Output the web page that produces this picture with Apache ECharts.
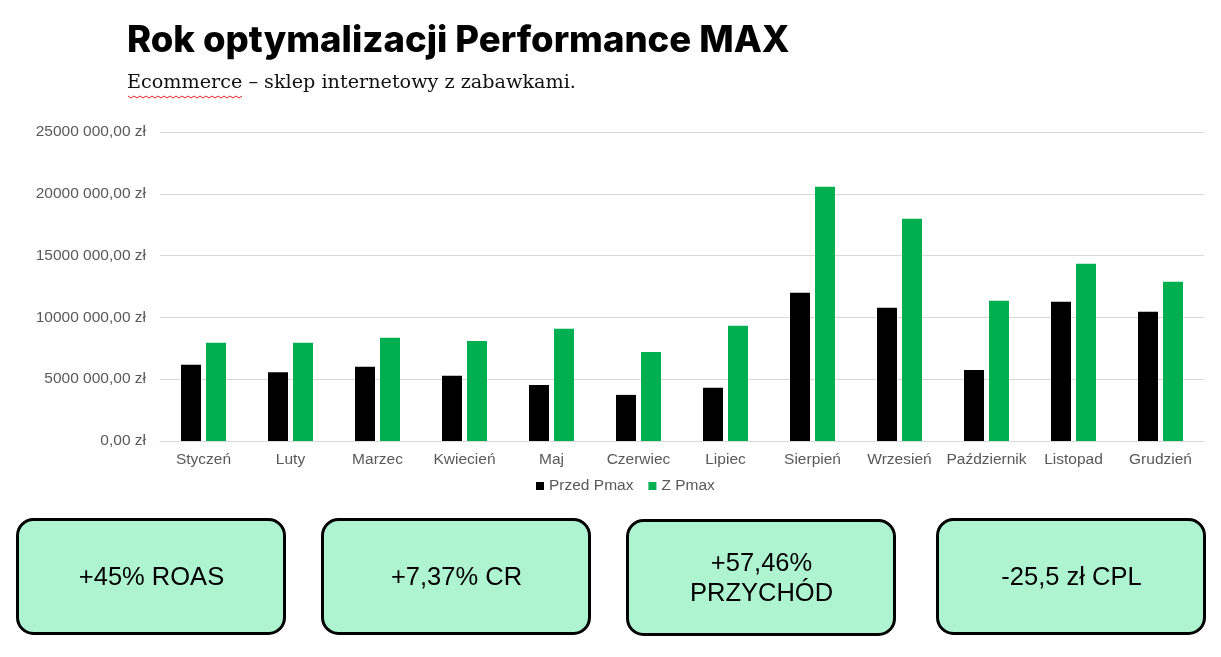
<!DOCTYPE html>
<html>
<head>
<meta charset="utf-8">
<script src="https://cdn.jsdelivr.net/npm/echarts@6/dist/echarts.min.js"></script>
<style>
  html, body { margin: 0; padding: 0; background: #fff; }
  #main { width: 1221px; height: 657px; }
</style>
</head>
<body>
<div id="main"></div>
<script>
// miesiące
var months = ['Styczeń', 'Luty', 'Marzec', 'Kwiecień', 'Maj', 'Czerwiec', 'Lipiec',
              'Sierpień', 'Wrzesień', 'Październik', 'Listopad', 'Grudzień'];
// przychód przed Pmax
var przedPmax = [6160000, 5570000, 6000000, 5270000, 4540000, 3730000, 4300000,
                 11990000, 10780000, 5750000, 11260000, 10450000];
// przychód z Pmax
var zPmax = [7940000, 7940000, 8350000, 8100000, 9080000, 7210000, 9320000,
             20580000, 17990000, 11350000, 14340000, 12880000];
var seriesNames = ['Przed Pmax', 'Z Pmax'];
// kafelki z wynikami
var kpis = ['+45% ROAS', '+7,37% CR', '+57,46%\nPRZYCHÓD', '-25,5 zł CPL'];

var kpiBoxes = [[16, 518], [321, 518], [626, 519], [936, 518]];

var myChart = echarts.init(document.getElementById('main'));

function zl(v) {
    if (v === 0) return '0,00 zł';
    return Math.round(v / 1000) + ' 000,00 zł';
}

var graphics = [
    {
        type: 'text', left: 127, top: 23,
        style: { text: 'Rok optymalizacji Performance MAX', fontFamily: 'Inter', fontWeight: 800,
                 fontSize: 36.5, fill: '#000' }
    },
    {
        type: 'text', left: 127, top: 74,
        style: { text: 'Ecommerce – sklep internetowy z zabawkami.', fontFamily: 'DejaVu Serif',
                 fontSize: 19.2, fill: '#111' }
    }
];
// czerwone podkreślenie (sprawdzanie pisowni)
var wave = [];
for (var i = 0; i <= 38; i++) {
    wave.push([128 + i * 3, 96 + (i % 2 ? 2 : 0)]);
}
graphics.push({ type: 'polyline', shape: { points: wave }, style: { stroke: '#e02020', lineWidth: 1, fill: null } });

kpis.forEach(function (t, i) {
    graphics.push({
        type: 'group', left: kpiBoxes[i][0], top: kpiBoxes[i][1],
        children: [
            { type: 'rect', shape: { x: 0, y: 0, width: 267, height: 114, r: 16 },
              style: { fill: '#aef4d0', stroke: '#000', lineWidth: 3 } },
            { type: 'text', x: 134, y: 58,
              style: { text: t, fontFamily: 'Liberation Sans', fontSize: 25.5, fill: '#000',
                       align: 'center', verticalAlign: 'middle', lineHeight: 30 } }
        ]
    });
});

var option = {
    backgroundColor: '#fff',
    textStyle: { fontFamily: 'Liberation Sans' },
    graphic: graphics,
    legend: {
        data: seriesNames,
        top: 473, left: 531,
        itemWidth: 8, itemHeight: 8, itemGap: 15,
        icon: 'rect',
        textStyle: { color: '#595959', fontSize: 15.5, fontFamily: 'Liberation Sans' }
    },
    grid: { left: 160, right: 17, top: 132, bottom: 216 },
    xAxis: {
        type: 'category',
        data: months,
        axisLine: { lineStyle: { color: '#d9d9d9' } },
        axisTick: { show: false },
        axisLabel: { color: '#595959', fontSize: 15.5, margin: 11, interval: 0 }
    },
    yAxis: {
        type: 'value',
        min: 0, max: 25000000, interval: 5000000,
        axisLabel: { color: '#595959', fontSize: 15.5, margin: 14, formatter: zl },
        splitLine: { lineStyle: { color: '#d9d9d9' } }
    },
    series: [
        { name: seriesNames[0], type: 'bar', data: przedPmax, barWidth: 20, barGap: '25%',
          itemStyle: { color: '#000000' } },
        { name: seriesNames[1], type: 'bar', data: zPmax, barWidth: 20,
          itemStyle: { color: '#00b050' } }
    ]
};
myChart.setOption(option);
</script>
</body>
</html>
